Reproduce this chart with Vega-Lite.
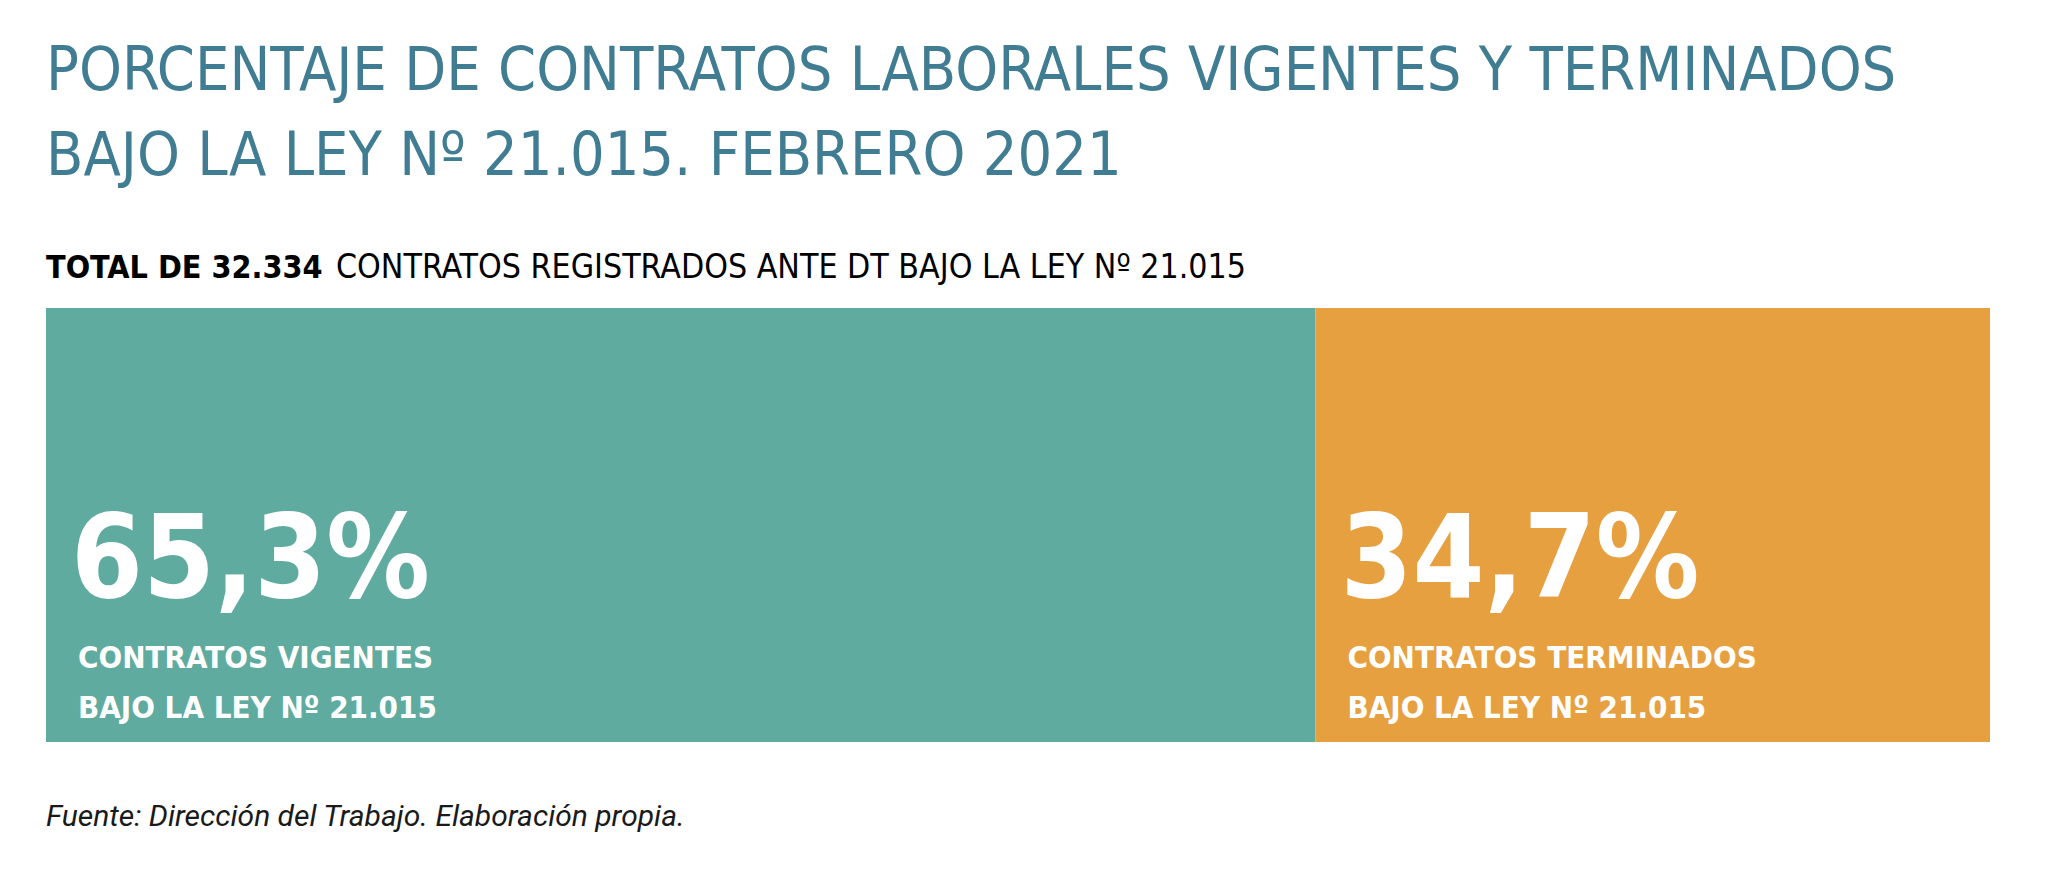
{
  "$schema": "https://vega.github.io/schema/vega-lite/v6.json",
  "autosize": {"type": "none"},
  "padding": {"left": 46, "top": 308, "right": 58, "bottom": 133},
  "width": 1944,
  "height": 434,
  "background": "#ffffff",
  "config": {"view": {"stroke": null}},
  "datasets": {
    "contratos": [
      {"grupo": "total", "estado": "Vigentes", "orden": 1, "pct": 65.3, "etiqueta": "65,3%", "descripcion": "CONTRATOS VIGENTES\nBAJO LA LEY Nº 21.015"},
      {"grupo": "total", "estado": "Terminados", "orden": 2, "pct": 34.7, "etiqueta": "34,7%", "descripcion": "CONTRATOS TERMINADOS\nBAJO LA LEY Nº 21.015"}
    ],
    "textos": [
      {"grupo": "total", "titulo": "PORCENTAJE DE CONTRATOS LABORALES VIGENTES Y TERMINADOS\nBAJO LA LEY Nº 21.015. FEBRERO 2021", "destacado": "TOTAL DE 32.334", "resto": "CONTRATOS REGISTRADOS ANTE DT BAJO LA LEY Nº 21.015", "fuente": "Fuente: Dirección del Trabajo. Elaboración propia."}
    ]
  },
  "layer": [
    {
      "data": {"name": "contratos"},
      "mark": {"type": "bar", "cornerRadius": 0},
      "encoding": {
        "x": {"field": "pct", "type": "quantitative", "stack": "zero", "scale": {"domain": [0, 100], "nice": false}, "axis": null},
        "y": {"field": "grupo", "type": "nominal", "scale": {"paddingInner": 0, "paddingOuter": 0}, "axis": null},
        "color": {"field": "estado", "type": "nominal", "scale": {"domain": ["Vigentes", "Terminados"], "range": ["#60ABA0", "#E7A040"]}, "legend": null},
        "order": {"field": "orden", "type": "quantitative"}
      }
    },
    {
      "data": {"name": "contratos"},
      "transform": [{"stack": "pct", "groupby": ["grupo"], "sort": [{"field": "orden"}], "as": ["x0", "x1"]}],
      "mark": {"type": "text", "align": "left", "baseline": "alphabetic", "font": "DejaVu Sans Condensed, sans-serif", "fontSize": 115, "fontWeight": "bold", "color": "#ffffff", "dx": 25},
      "encoding": {
        "x": {"field": "x0", "type": "quantitative"},
        "y": {"field": "grupo", "type": "nominal", "bandPosition": 0.665},
        "text": {"field": "etiqueta", "type": "nominal"}
      }
    },
    {
      "data": {"name": "contratos"},
      "transform": [{"stack": "pct", "groupby": ["grupo"], "sort": [{"field": "orden"}], "as": ["x0", "x1"]}],
      "mark": {"type": "text", "align": "left", "baseline": "alphabetic", "font": "DejaVu Sans Condensed, sans-serif", "fontSize": 31, "fontWeight": "bold", "color": "#ffffff", "dx": 32, "lineBreak": "\n", "lineHeight": 50},
      "encoding": {
        "x": {"field": "x0", "type": "quantitative"},
        "y": {"field": "grupo", "type": "nominal", "bandPosition": 0.83},
        "text": {"field": "descripcion", "type": "nominal"}
      }
    },
    {
      "data": {"name": "textos"},
      "mark": {"type": "text", "align": "left", "baseline": "alphabetic", "font": "DejaVu Sans Condensed, sans-serif", "fontSize": 60.7, "color": "#407D93", "dy": -218, "lineBreak": "\n", "lineHeight": 85},
      "encoding": {
        "x": {"datum": 0, "type": "quantitative"},
        "y": {"field": "grupo", "type": "nominal", "bandPosition": 0},
        "text": {"field": "titulo", "type": "nominal"}
      }
    },
    {
      "data": {"name": "textos"},
      "mark": {"type": "text", "align": "left", "baseline": "alphabetic", "font": "DejaVu Sans Condensed, sans-serif", "fontSize": 32, "fontWeight": "bold", "color": "#000000", "dy": -30},
      "encoding": {
        "x": {"datum": 0, "type": "quantitative"},
        "y": {"field": "grupo", "type": "nominal", "bandPosition": 0},
        "text": {"field": "destacado", "type": "nominal"}
      }
    },
    {
      "data": {"name": "textos"},
      "mark": {"type": "text", "align": "left", "baseline": "alphabetic", "font": "DejaVu Sans Condensed, sans-serif", "fontSize": 33.6, "color": "#000000", "dy": -30, "dx": 290},
      "encoding": {
        "x": {"datum": 0, "type": "quantitative"},
        "y": {"field": "grupo", "type": "nominal", "bandPosition": 0},
        "text": {"field": "resto", "type": "nominal"}
      }
    },
    {
      "data": {"name": "textos"},
      "mark": {"type": "text", "align": "left", "baseline": "alphabetic", "font": "Roboto, sans-serif", "fontSize": 30, "fontStyle": "italic", "color": "#1a1a1a", "dy": 84},
      "encoding": {
        "x": {"datum": 0, "type": "quantitative"},
        "y": {"field": "grupo", "type": "nominal", "bandPosition": 1},
        "text": {"field": "fuente", "type": "nominal"}
      }
    }
  ]
}
